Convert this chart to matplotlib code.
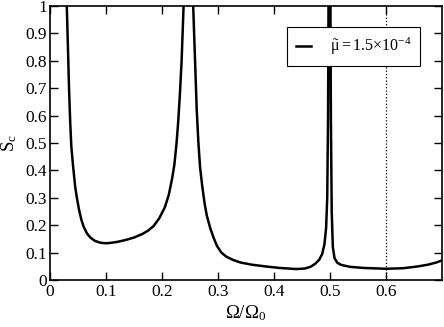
import numpy as np
import matplotlib.pyplot as plt

plt.rcParams['font.family'] = ['Liberation Serif', 'DejaVu Serif']
plt.rcParams['mathtext.fontset'] = 'custom'
plt.rcParams['mathtext.rm'] = 'Liberation Serif'
plt.rcParams['mathtext.it'] = 'Liberation Serif'
plt.rcParams['mathtext.bf'] = 'Liberation Serif:bold'

# curva S_c vs Omega/Omega_0
omega = [0.028, 0.030, 0.032, 0.034, 0.036, 0.038, 0.041, 0.045, 0.048, 0.052,
         0.056, 0.060, 0.066, 0.072, 0.080, 0.090, 0.100, 0.110, 0.120, 0.135,
         0.150, 0.165, 0.175, 0.185, 0.195, 0.205, 0.212, 0.218, 0.222, 0.226,
         0.229, 0.232, 0.235, 0.238, 0.240, 0.247, 0.254, 0.256, 0.259, 0.262,
         0.265, 0.268, 0.272, 0.276, 0.280, 0.286, 0.292, 0.298, 0.306, 0.315,
         0.327, 0.340, 0.360, 0.387, 0.410, 0.440, 0.455, 0.465, 0.474, 0.481,
         0.486, 0.490, 0.493, 0.495, 0.4965, 0.4975, 0.499, 0.5005, 0.5015, 0.503,
         0.505, 0.508, 0.513, 0.520, 0.536, 0.560, 0.600, 0.630, 0.655, 0.675,
         0.690, 0.700, 0.705]
sc = [1.10, 1.00, 0.85, 0.70, 0.58, 0.49, 0.42, 0.34, 0.30, 0.255,
      0.22, 0.195, 0.17, 0.155, 0.143, 0.136, 0.134, 0.136, 0.139, 0.146,
      0.155, 0.168, 0.180, 0.197, 0.225, 0.265, 0.31, 0.37, 0.42, 0.50,
      0.58, 0.68, 0.80, 0.97, 1.10, 1.40, 1.10, 0.98, 0.80, 0.62,
      0.50, 0.41, 0.34, 0.28, 0.235, 0.19, 0.155, 0.125, 0.10, 0.085,
      0.073, 0.064, 0.056, 0.049, 0.044, 0.040, 0.042, 0.048, 0.060, 0.075,
      0.095, 0.13, 0.19, 0.30, 0.60, 1.10, 1.30, 1.10, 0.60, 0.25,
      0.12, 0.08, 0.063, 0.055, 0.048, 0.044, 0.041, 0.043, 0.049, 0.056,
      0.064, 0.072, 0.076]
omega_line = 0.6
etiqueta = r'$\tilde{\mu} = 1.5{\times}10^{-4}$'

fig = plt.figure(figsize=(4.44, 3.27), dpi=100)
ax = fig.add_axes([0.1126, 0.1437, 0.883, 0.838])

ax.plot(omega, sc, color='black', lw=1.8, label=etiqueta)
ax.plot([omega_line, omega_line], [0, 1], color='black', lw=0.9, ls=':')

ax.set_xlim(0, 0.7)
ax.set_ylim(0, 1)
ax.set_xticks([0, 0.1, 0.2, 0.3, 0.4, 0.5, 0.6])
ax.set_xticklabels(['0', '0.1', '0.2', '0.3', '0.4', '0.5', '0.6'])
ax.set_yticks(np.arange(0, 1.01, 0.1))
ax.set_yticklabels(['0', '0.1', '0.2', '0.3', '0.4', '0.5', '0.6', '0.7', '0.8', '0.9', '1'])
ax.tick_params(direction='in', top=True, right=True, length=6, width=1,
               labelsize=12.5)
ax.tick_params(axis='x', pad=3)
ax.tick_params(axis='y', pad=2)
for s in ax.spines.values():
    s.set_linewidth(1.2)

ax.set_xlabel(r'$\Omega/\Omega_0$', fontsize=13.5)
ax.xaxis.set_label_coords(0.5, -0.085)
ax.set_ylabel(r'S$_\mathrm{c}$', fontsize=13.5)
ax.yaxis.set_label_coords(-0.08, 0.5)

leg = ax.legend(loc='upper right', bbox_to_anchor=(0.944, 0.923), borderaxespad=0,
                fancybox=False, edgecolor='black', framealpha=1, fontsize=11.5,
                handlelength=0.9, borderpad=0.55, handletextpad=1.2)
leg.get_frame().set_linewidth(0.8)
leg.set_zorder(5)

fig.savefig('out.png', dpi=100)
